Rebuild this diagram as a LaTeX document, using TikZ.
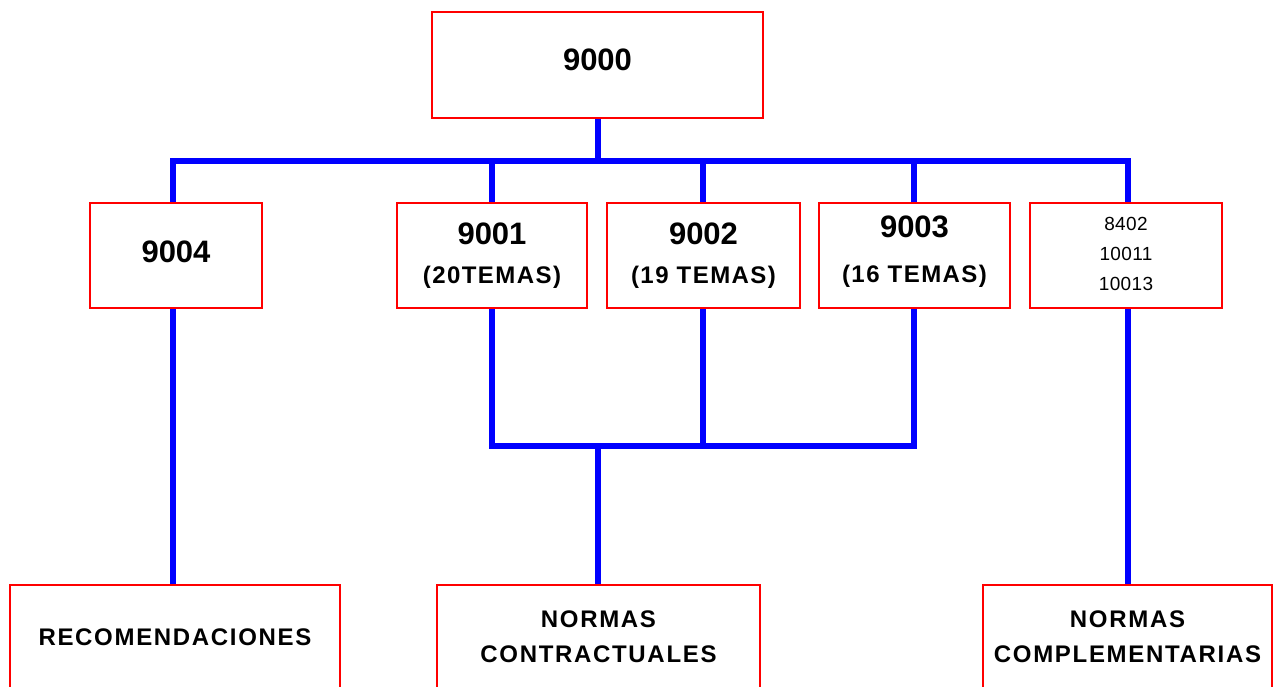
\documentclass[tikz,border=0pt]{standalone}
\usepackage{fontspec}
\setmainfont{Liberation Sans}
\newcommand{\bignum}{\fontsize{31}{36}\bfseries\selectfont}
\newcommand{\temas}{\fontsize{24}{36}\bfseries\selectfont\addfontfeature{LetterSpace=6}}
\newcommand{\smallnum}{\fontsize{19}{30}\selectfont\addfontfeature{LetterSpace=2}}
\newcommand{\caps}{\fontsize{24}{35}\bfseries\selectfont\addfontfeature{LetterSpace=7}}
\begin{document}
\begin{tikzpicture}[x=1pt,y=-1pt,
  box/.style={draw=red, line width=1.6pt, inner sep=0pt, align=center, fill=white},
  conn/.style={draw=blue, line width=6pt}]
\useasboundingbox (0,0) rectangle (1275,686);
\clip (0,0) rectangle (1275,686);
% named coordinates for connectors
\coordinate (bL) at (173,161);
\coordinate (bC) at (598,161);
\coordinate (b1) at (492,161);
\coordinate (b2) at (703,161);
\coordinate (b3) at (914,161);
\coordinate (bR) at (1128,161);
\coordinate (lL) at (492,446);
\coordinate (lC) at (598,446);
\coordinate (lM) at (703,446);
\coordinate (lR) at (914,446);
% connectors drawn first (boxes on top)
\path[conn] (bL |- 0,255) -- (bL) -- (bR) -- (bR |- 0,255);
\path[conn] (bC) -- (bC |- 0,65);
\path[conn] (b1) -- (b1 |- 0,255);
\path[conn] (b2) -- (b2 |- 0,255);
\path[conn] (b3) -- (b3 |- 0,255);
\path[conn] (lL |- 0,255) -- (lL) -- (lR) -- (lR |- 0,255);
\path[conn] (lM |- 0,255) -- (lM);
\path[conn] (lC) -- (lC |- 0,637);
\path[conn] (bL |- 0,255) -- (bL |- 0,637);
\path[conn] (bR |- 0,255) -- (bR |- 0,637);
% boxes
\node[box, minimum width=331, minimum height=106, text height=10pt, text depth=0pt, font=\bignum] (n9000) at (597.5,65) {9000};
\node[box, minimum width=172, minimum height=105, text height=13pt, text depth=0pt, font=\bignum] (n9004) at (176,255.5) {9004};
\node[box, minimum width=190, minimum height=105, text height=55pt, text depth=0pt, font=\bignum] (n9001) at (492,255.5) {9001\\[3pt]{\temas (20TEMAS)}};
\node[box, minimum width=193, minimum height=105, text height=55pt, text depth=0pt, font=\bignum] (n9002) at (703.5,255.5) {9002\\[3pt]{\temas (19 TEMAS)}};
\node[box, minimum width=191, minimum height=105, text height=53pt, text depth=0pt, font=\bignum] (n9003) at (914.5,255.5) {9003\\[9pt]{\temas (16 TEMAS)}};
\node[box, minimum width=192, minimum height=105, text height=69pt, text depth=0pt, font=\smallnum] (n8402) at (1126,255.5) {8402\\10011\\10013};
\node[box, minimum width=330, minimum height=105, text height=15pt, text depth=0pt, font=\caps] (rec) at (175,637.5) {RECOMENDACIONES};
\node[box, minimum width=323, minimum height=105, text height=49pt, text depth=0pt, font=\caps] (nc) at (598.5,637.5) {NORMAS\\CONTRACTUALES};
\node[box, minimum width=289, minimum height=105, text height=49pt, text depth=0pt, font=\caps] (ncomp) at (1127.5,637.5) {NORMAS\\COMPLEMENTARIAS};
\end{tikzpicture}
\end{document}
